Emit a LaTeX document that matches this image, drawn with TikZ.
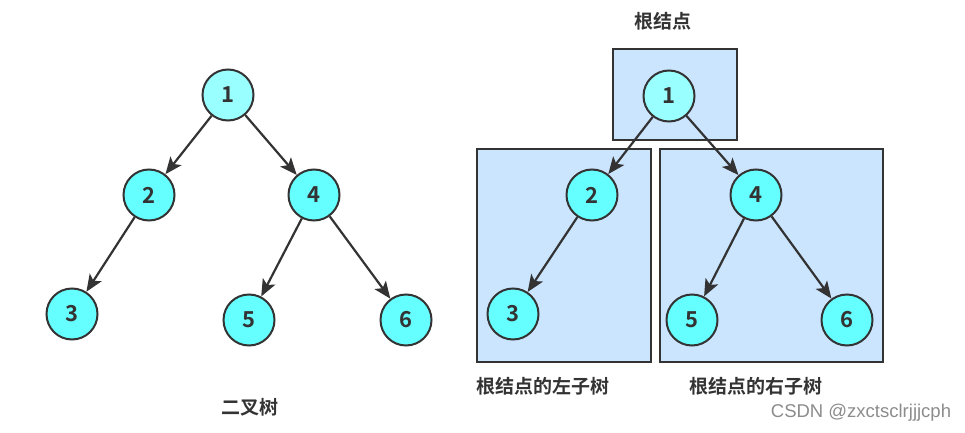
\documentclass[tikz,border=0pt]{standalone}
\usepackage{fontspec}
\newfontfamily\cjk{Noto Sans CJK SC}[BoldFont={Noto Sans CJK SC Bold}]
\newfontfamily\wmfont{Liberation Sans}
\usetikzlibrary{arrows.meta}
\definecolor{nodefill}{HTML}{66FFFF}
\definecolor{rootfill}{HTML}{99FFFF}
\definecolor{boxfill}{HTML}{CCE5FF}
\definecolor{linegray}{HTML}{333333}
\tikzset{
  treenode/.style={circle, draw=linegray, line width=2pt, fill=nodefill,
    minimum size=51pt, inner sep=0pt, text=linegray,
    font=\cjk\bfseries\fontsize{22}{22}\selectfont},
  rootnode/.style={treenode, fill=rootfill},
  subbox/.style={draw=linegray, line width=2.2pt, fill=boxfill},
  edge/.style={-{Stealth[length=17pt, width=14pt, inset=4pt]}, line width=2.2pt, draw=linegray},
  caption/.style={text=linegray, font=\cjk\bfseries\fontsize{19}{19}\selectfont}
}
\begin{document}
\begin{tikzpicture}[x=1pt, y=-1pt]
    \useasboundingbox (0,0) rectangle (965,433);

    % Binary tree
    \node[rootnode] (n1) at (228,95) {1};
    \node[treenode] (n2) at (149,195) {2};
    \node[treenode] (n4) at (314,195) {4};
    \node[treenode] (n3) at (72,314) {3};
    \node[treenode] (n5) at (249,320) {5};
    \node[treenode] (n6) at (406,320) {6};

    \draw[edge] (n1) -- (n2);
    \draw[edge] (n1) -- (n4);
    \draw[edge] (n2) -- (n3);
    \draw[edge] (n4) -- (n5);
    \draw[edge] (n4) -- (n6);

    \node[caption] (treelabel) at (250,407) {二叉树};

    % Root and its two subtrees
    \draw[subbox] (613,49) rectangle (737,140);
    \draw[subbox] (477,149) rectangle (651,362);
    \draw[subbox] (660,149) rectangle (883,362);

    \node[rootnode] (r1) at (669,96) {1};
    \node[treenode] (r2) at (592,195) {2};
    \node[treenode] (r4) at (756,195) {4};
    \node[treenode] (r3) at (513,314) {3};
    \node[treenode] (r5) at (692,320) {5};
    \node[treenode] (r6) at (847,320) {6};

    \draw[edge] (r1) -- (r2);
    \draw[edge] (r1) -- (r4);
    \draw[edge] (r2) -- (r3);
    \draw[edge] (r4) -- (r5);
    \draw[edge] (r4) -- (r6);

    \node[caption] (rootlabel) at (663,21) {根结点};
    \node[caption] (leftlabel) at (543,386) {根结点的左子树};
    \node[caption] (rightlabel) at (756,386) {根结点的右子树};

    % Watermark
    \node[text=black!45, font=\wmfont\fontsize{18.5}{18.5}\selectfont] (mark) at (861,413) {CSDN @zxctsclrjjjcph};
\end{tikzpicture}
\end{document}
